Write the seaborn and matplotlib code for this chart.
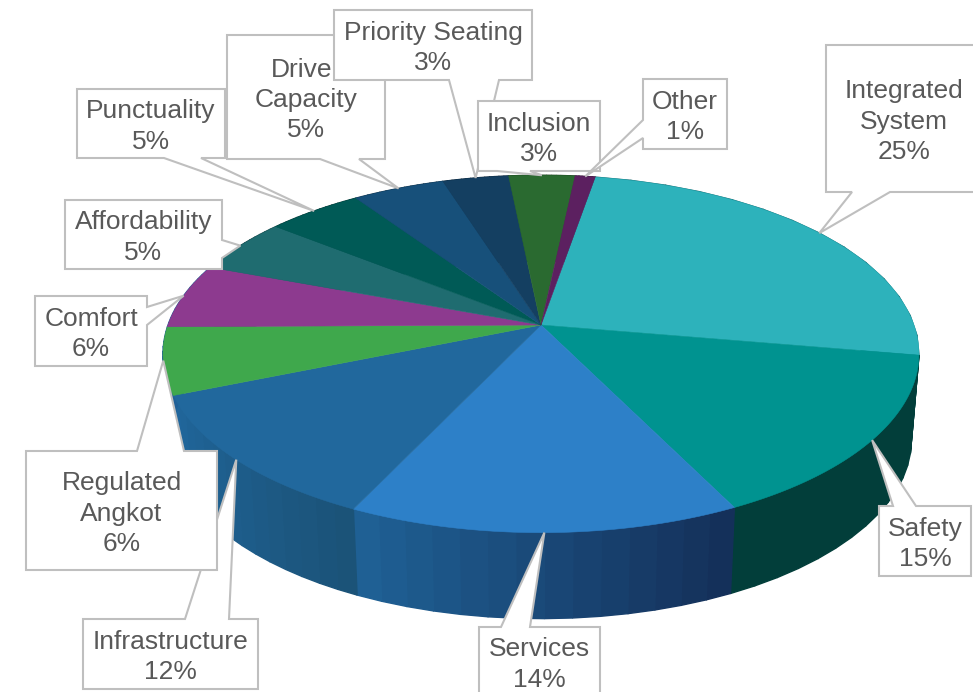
import numpy as np
import seaborn as sns
import matplotlib.pyplot as plt
from matplotlib.patches import Polygon

categories = ['Integrated\nSystem', 'Safety', 'Services', 'Infrastructure',
              'Regulated\nAngkot', 'Comfort', 'Affordability', 'Punctuality',
              'Driver\nCapacity', 'Priority Seating', 'Inclusion', 'Other']
# the labels show these rounded
shares = [25, 15, 14.37, 11.73, 6.05, 5.85, 5, 4.8, 4.6, 3.3, 3.3, 1]

top_colors = ['#2db2bb', '#009390', '#2d80c8', '#21689d', '#3fa84c', '#8d3a8f',
              '#1f6c70', '#005a56', '#17507a', '#143f61', '#2a6a30', '#5c2060']
wall_from = ['#0b5f66', '#023e3a', '#14305a', '#1b5378', '#1f6097', '#1f6097',
             '#0f3d40', '#003330', '#0d2e46', '#0b2438', '#183c1b', '#341236']
wall_to = ['#0b5f66', '#023e3a', '#1f6094', '#20669c', '#1f6097', '#1f6097',
           '#0f3d40', '#003330', '#0d2e46', '#0b2438', '#183c1b', '#341236']

# callout layout in pixels: left, right, top, bottom, edge the pointer leaves, pointer base
boxes = [
    (826, 982, 45, 192, 'bottom', 852, 890),
    (879, 971, 506, 576, 'top', 893, 916),
    (479, 600, 627, 696, 'top', 501, 530),
    (83, 258, 619, 689, 'top', 185, 229),
    (26, 217, 451, 570, 'top', 137, 184),
    (35, 147, 296, 366, 'right', 307, 325),
    (65, 222, 200, 269, 'right', 240, 258),
    (77, 225, 89, 158, 'bottom', 164, 201),
    (227, 385, 35, 159, 'bottom', 320, 359),
    (334, 532, 10, 80, 'bottom', 449, 499),
    (478, 600, 101, 171, 'bottom', 497, 530),
    (643, 727, 79, 149, 'left', 120, 138),
]

# pie geometry in pixels, the top face is a circle seen in perspective
cx, cy = 541, 325
rx, ry = 373, 174
persp = 0.162
depth = 86
shrink = 0.98
start = 9.7


def rim(theta):
    u, v = np.sin(theta), np.cos(theta)
    s = 1 / (1 + persp * v)
    return cx + rx * u * s, cy - ry * v * s


def callout(box, tip):
    left, right, top, bottom, edge, a, b = box
    if edge == 'top':
        return [(left, top), (a, top), tip, (b, top), (right, top), (right, bottom), (left, bottom)]
    if edge == 'bottom':
        return [(left, top), (right, top), (right, bottom), (b, bottom), tip, (a, bottom), (left, bottom)]
    if edge == 'right':
        return [(left, top), (right, top), (right, a), tip, (right, b), (right, bottom), (left, bottom)]
    return [(left, top), (right, top), (right, bottom), (left, bottom), (left, b), tip, (left, a)]


sns.set_style('white')
plt.rcParams['font.family'] = ['Liberation Sans', 'DejaVu Sans']

fig = plt.figure(figsize=(9.73, 6.92), dpi=100)
ax = fig.add_axes([0, 0, 1, 1])
ax.set_xlim(0, 973)
ax.set_ylim(692, 0)
ax.axis('off')

edges = np.radians(start + np.cumsum([0] + shares) * 3.6)
n_steps = 14

# side walls first, the top face covers the back ones
for i in range(len(shares)):
    thetas = np.linspace(edges[i], edges[i + 1], n_steps + 1)
    shades = sns.blend_palette([wall_from[i], wall_to[i]], n_steps)
    xs, ys = rim(thetas)
    xl = cx + shrink * (xs - cx)
    yl = ys + depth
    for j in range(n_steps):
        ax.fill([xs[j], xs[j + 1], xl[j + 1], xl[j]], [ys[j], ys[j + 1], yl[j + 1], yl[j]],
                color=shades[j], lw=1.0, zorder=1)

# top face
palette = sns.color_palette(top_colors)
for i in range(len(shares)):
    thetas = np.linspace(edges[i], edges[i + 1], 60)
    xs, ys = rim(thetas)
    ax.fill(np.r_[cx, xs], np.r_[cy, ys], color=palette[i], lw=0.4, zorder=2)

# labels, each pointer ends on the rim at the middle of its slice
for i, name in enumerate(categories):
    tip = rim((edges[i] + edges[i + 1]) / 2)
    box = boxes[i]
    ax.add_patch(Polygon(callout(box, tip), closed=True, facecolor='white', edgecolor='#bfbfbf',
                         lw=1.5, joinstyle='miter', zorder=3 + i))
    ax.text((box[0] + box[1]) / 2, (box[2] + box[3]) / 2 + 3, f'{name}\n{shares[i]:.0f}%',
            ha='center', va='center', fontsize=19, color='#595959', linespacing=1.33, zorder=3 + i)

plt.savefig('out.png', dpi=100)
